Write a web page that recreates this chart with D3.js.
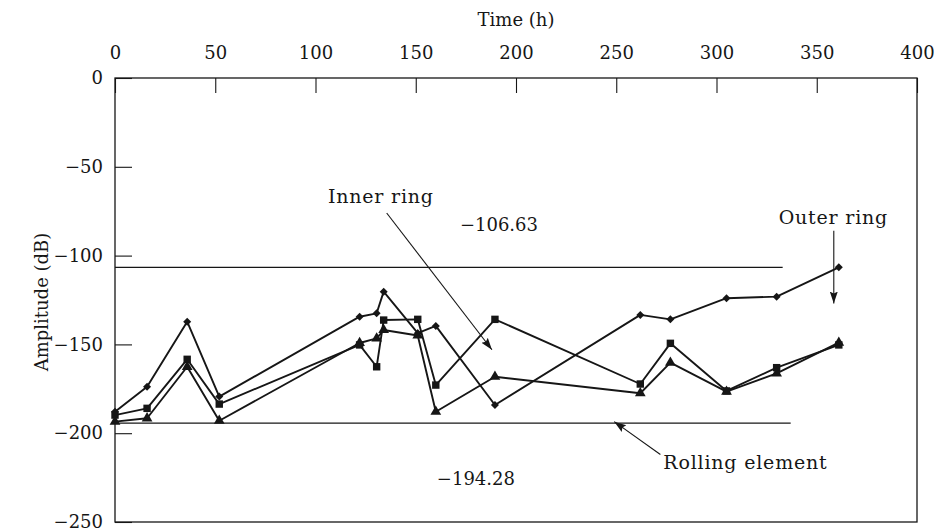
<!DOCTYPE html>
<html>
<head>
<meta charset="utf-8">
<script src="https://cdn.jsdelivr.net/npm/d3@7"></script>
<style>
  body { margin: 0; background: #fff; }
  svg { display: block; }
  text { font-family: "DejaVu Serif", serif; fill: #161616; }
</style>
</head>
<body>
<svg id="chart" width="934" height="531"></svg>
<script>
// measuring times (h)
const hours = [0, 16, 36, 52, 122, 130.5, 134, 151, 160, 189.5, 262, 277, 305, 330, 361];

// amplitude (dB) of the three curves, diamond / square / triangle markers
const diamondValues = [-187.9, -173.8, -137.2, -179.4, -134.4, -132.5, -120.3, -143.7, -139.6, -184.1, -133.4, -135.9, -124.0, -123.1, -106.6];
const squareValues = [-189.8, -186.0, -158.4, -183.6, -150.3, -162.6, -136.3, -135.9, -172.9, -135.9, -172.3, -149.4, -176.2, -163.1, -150.3];
const triangleValues = [-193.5, -191.6, -162.6, -193.0, -149.2, -146.6, -141.9, -145.0, -187.9, -168.2, -177.5, -160.3, -176.6, -166.3, -149.0];

// threshold lines (dB) and their labels
const thresholdValues = [-106.63, -194.28];
const thresholdLabels = ["\u2212106.63", "\u2212194.28"];

// axis ticks
const xTicks = [0, 50, 100, 150, 200, 250, 300, 350, 400];
const yTicks = [0, -50, -100, -150, -200, -250];

const svg = d3.select("#chart");

const x = d3.scaleLinear().domain([0, 400]).range([115, 917]);
const y = d3.scaleLinear().domain([0, -250]).range([78, 522]);

const ink = "#161616";

// arrow head
svg.append("defs").append("marker")
    .attr("id", "arrow")
    .attr("viewBox", "0 -5 12 10")
    .attr("refX", 12)
    .attr("refY", 0)
    .attr("markerWidth", 12)
    .attr("markerHeight", 10)
    .attr("markerUnits", "userSpaceOnUse")
    .attr("orient", "auto")
    .append("path")
    .attr("d", "M0,-4L12,0L0,4L2,0Z")
    .attr("fill", ink);

// frame
svg.append("rect")
    .attr("x", x(0))
    .attr("y", y(0))
    .attr("width", x(400) - x(0))
    .attr("height", y(-250) - y(0))
    .attr("fill", "none")
    .attr("stroke", ink)
    .attr("stroke-width", 1.3);

// top axis, ticks pointing into the plot
const xAxis = svg.append("g")
    .attr("transform", `translate(0,${y(0)})`)
    .call(d3.axisTop(x).tickValues(xTicks).tickSizeInner(-15).tickSizeOuter(0).tickPadding(19));
xAxis.select(".domain").remove();
xAxis.selectAll("line").attr("stroke", ink).attr("stroke-width", 1.1);
xAxis.selectAll("text").attr("font-size", 18).attr("font-family", "DejaVu Serif");

// left axis
const yAxis = svg.append("g")
    .attr("transform", `translate(${x(0)},0)`)
    .call(d3.axisLeft(y).tickValues(yTicks).tickSizeInner(-17).tickSizeOuter(0).tickPadding(12));
yAxis.select(".domain").remove();
yAxis.selectAll("line").attr("stroke", ink).attr("stroke-width", 1.1);
yAxis.selectAll("text").attr("font-size", 18).attr("font-family", "DejaVu Serif");

// axis titles
svg.append("text")
    .attr("x", (x(0) + x(400)) / 2)
    .attr("y", 26)
    .attr("text-anchor", "middle")
    .attr("font-size", 18)
    .text("Time (h)");

svg.append("text")
    .attr("transform", `translate(48,${(y(0) + y(-250)) / 2 + 2}) rotate(-90)`)
    .attr("text-anchor", "middle")
    .attr("font-size", 18)
    .text("Amplitude (dB)");

// threshold lines, they stop short of the right border
const thresholdEnds = [333, 337];
svg.selectAll(".threshold")
    .data(thresholdValues)
    .enter()
    .append("line")
    .attr("class", "threshold")
    .attr("x1", x(0))
    .attr("x2", (d, i) => x(thresholdEnds[i]))
    .attr("y1", d => y(d))
    .attr("y2", d => y(d))
    .attr("stroke", ink)
    .attr("stroke-width", 1.2);

// label positions in data units (h, dB)
const thresholdLabelPos = [[191.5, -86], [180, -229]];
svg.selectAll(".thresholdLabel")
    .data(thresholdLabels)
    .enter()
    .append("text")
    .attr("class", "thresholdLabel")
    .attr("x", (d, i) => x(thresholdLabelPos[i][0]))
    .attr("y", (d, i) => y(thresholdLabelPos[i][1]))
    .attr("text-anchor", "middle")
    .attr("font-size", 18)
    .text(d => d);

// curves
const series = [
    {values: diamondValues, symbol: d3.symbolSquare, size: 32, rotate: 45},
    {values: squareValues, symbol: d3.symbolSquare, size: 55, rotate: 0},
    {values: triangleValues, symbol: d3.symbolTriangle, size: 50, rotate: 0}
];

const line = d3.line()
    .x(d => x(d[0]))
    .y(d => y(d[1]));

series.forEach(s => {
    const pts = hours.map((h, i) => [h, s.values[i]]);

    svg.append("path")
        .datum(pts)
        .attr("fill", "none")
        .attr("stroke", ink)
        .attr("stroke-width", 1.9)
        .attr("stroke-linejoin", "round")
        .attr("d", line);

    svg.append("g")
        .selectAll("path")
        .data(pts)
        .enter()
        .append("path")
        .attr("transform", d => `translate(${x(d[0])},${y(d[1])}) rotate(${s.rotate})`)
        .attr("d", d3.symbol().type(s.symbol).size(s.size))
        .attr("fill", ink);
});

// callouts: label text and arrow, all in data units
const callouts = [
    {text: "Inner ring", tx: 159, ty: -70.5, anchor: "end", from: [135.5, -76], to: [188, -153]},
    {text: "Outer ring", tx: 331, ty: -82, anchor: "start", from: [358.5, -86], to: [358.5, -127]},
    {text: "Rolling element", tx: 273.5, ty: -220, anchor: "start", from: [272, -212], to: [249, -193.5]}
];

callouts.forEach(c => {
    svg.append("text")
        .attr("x", x(c.tx))
        .attr("y", y(c.ty))
        .attr("text-anchor", c.anchor)
        .attr("font-size", 19)
        .attr("letter-spacing", 0.8)
        .text(c.text);

    svg.append("line")
        .attr("x1", x(c.from[0]))
        .attr("y1", y(c.from[1]))
        .attr("x2", x(c.to[0]))
        .attr("y2", y(c.to[1]))
        .attr("stroke", ink)
        .attr("stroke-width", 1.1)
        .attr("marker-end", "url(#arrow)");
});
</script>
</body>
</html>
